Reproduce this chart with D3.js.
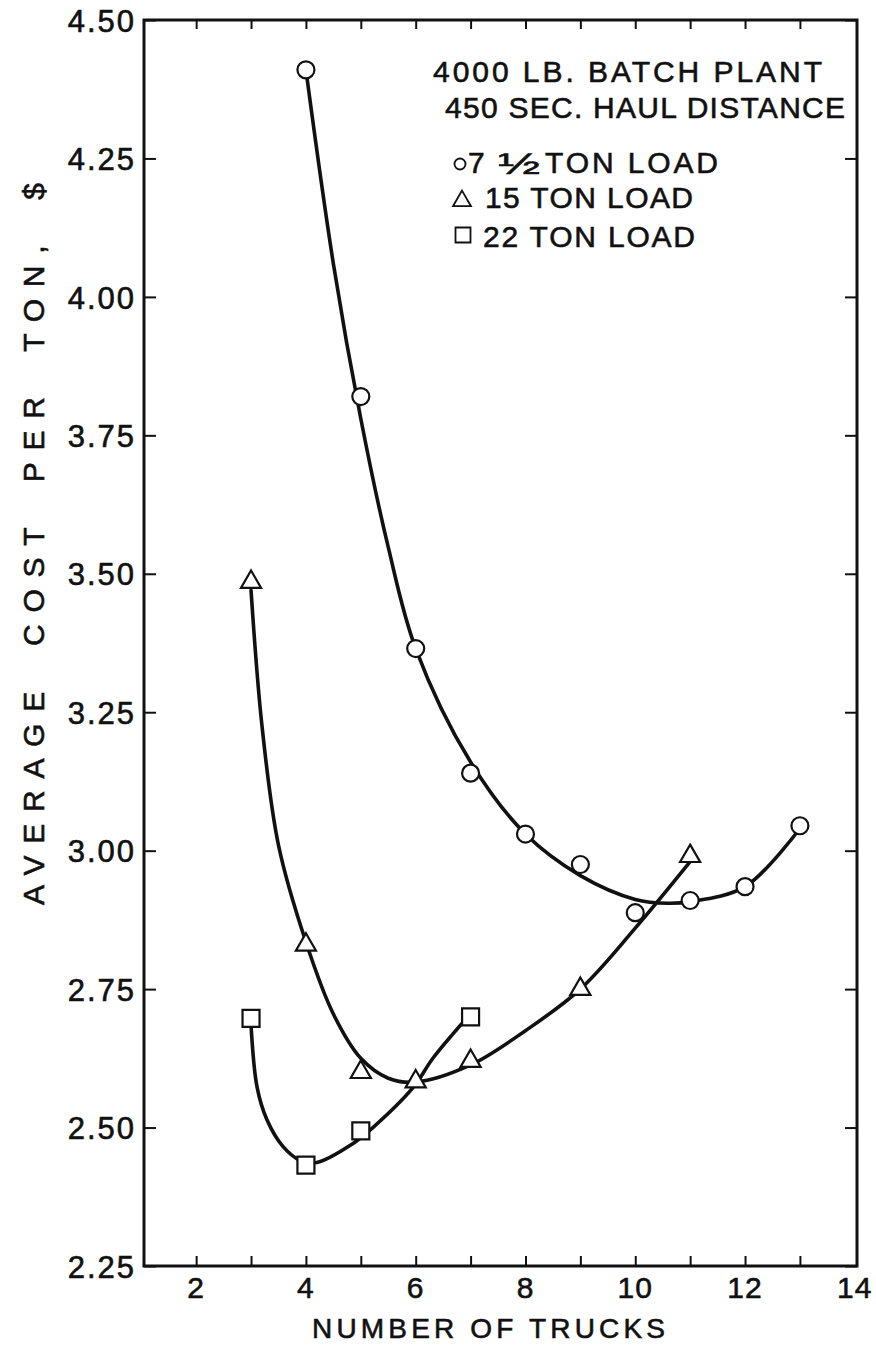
<!DOCTYPE html>
<html>
<head>
<meta charset="utf-8">
<script src="https://cdn.jsdelivr.net/npm/d3@7/dist/d3.min.js"></script>
<style>
  html, body { margin: 0; padding: 0; background: #fff; }
  svg { display: block; }
  text { font-family: "Liberation Sans", Arial, sans-serif; fill: #111; stroke: #111; stroke-width: 0.6px; }
</style>
</head>
<body>
<svg id="chart" width="876" height="1349"></svg>
<script>
// Observed costs (dollars per ton) by number of trucks
const trucks75 = [4, 5, 6, 7, 8, 9, 10, 11, 12, 13];
const cost75   = [4.41, 3.82, 3.365, 3.14, 3.03, 2.975, 2.888, 2.91, 2.935, 3.045];

const trucks15 = [3, 4, 5, 6, 7, 9, 11];
const cost15   = [3.485, 2.83, 2.60, 2.583, 2.62, 2.75, 2.99];

const trucks22 = [3, 4, 5, 7];
const cost22   = [2.697, 2.432, 2.494, 2.70];

// Hand-faired curves through each set of observations: [trucks, cost]
const fair75 = [[4, 4.41], [4.5, 4.06], [5, 3.78], [5.5, 3.548], [6, 3.365], [7, 3.16], [8, 3.03],
                [9, 2.955], [10, 2.912], [10.6, 2.905], [11, 2.908], [12, 2.935], [13, 3.04]];
const fair15 = [[3, 3.47], [3.2, 3.225], [3.5, 3.01], [4, 2.835], [4.5, 2.705], [5, 2.625],
                [5.5, 2.589], [6, 2.582], [7, 2.613], [8, 2.675], [9, 2.75], [10, 2.86], [11, 2.98]];
const fair22 = [[3, 2.685], [3.11, 2.573], [3.29, 2.514], [3.58, 2.466], [3.89, 2.441],
                [4.2, 2.437], [4.81, 2.468], [5.22, 2.50], [5.95, 2.572], [6.32, 2.626], [6.95, 2.70]];

// Axis ticks
const xTicks = [2, 4, 6, 8, 10, 12, 14];
const xMinorTicks = [2, 3, 4, 5, 6, 7, 8, 9, 10, 11, 12, 13];
const yTicks = [2.25, 2.50, 2.75, 3.00, 3.25, 3.50, 3.75, 4.00, 4.25, 4.50];

// Text
const xTitle = "NUMBER OF TRUCKS";
const yTitle = "AVERAGE COST PER TON, $";
const noteLines = ["4000 LB. BATCH PLANT", "450 SEC. HAUL DISTANCE"];
const legendLabels = ["TON  LOAD", "15  TON  LOAD", "22 TON  LOAD"];

const svg = d3.select("#chart");
const plotL = 144, plotR = 857, plotT = 20, plotB = 1266;

const x = d3.scaleLinear().domain([1.05, 14.04]).range([plotL, plotR]);
const y = d3.scaleLinear().domain([2.25, 4.5]).range([plotB, plotT]);

// Frame
svg.append("rect")
  .attr("x", plotL).attr("y", plotT)
  .attr("width", plotR - plotL).attr("height", plotB - plotT)
  .attr("fill", "none").attr("stroke", "#111").attr("stroke-width", 3);

// Bottom axis: inward ticks, labels below
const gx = svg.append("g").attr("transform", `translate(0,${plotB})`)
  .call(d3.axisBottom(x).tickValues(xMinorTicks).tickSizeInner(-10).tickSizeOuter(0).tickFormat(""));
gx.select(".domain").remove();
gx.selectAll("line").attr("stroke", "#111").attr("stroke-width", 2);

svg.append("g").selectAll("text").data(xTicks).join("text")
  .attr("x", d => x(d)).attr("y", plotB + 32)
  .attr("text-anchor", "middle")
  .attr("font-size", 30)
  .attr("letter-spacing", 1)
  .text(d => d);

// Top axis ticks
const gt = svg.append("g").attr("transform", `translate(0,${plotT})`)
  .call(d3.axisTop(x).tickValues(xMinorTicks).tickSizeInner(-9).tickSizeOuter(0).tickFormat(""));
gt.select(".domain").remove();
gt.selectAll("line").attr("stroke", "#111").attr("stroke-width", 2);

// Left axis
const gy = svg.append("g").attr("transform", `translate(${plotL},0)`)
  .call(d3.axisLeft(y).tickValues(yTicks).tickSizeInner(-12).tickSizeOuter(0).tickPadding(8)
    .tickFormat(d3.format(".2f")));
gy.select(".domain").remove();
gy.selectAll("line").attr("stroke", "#111").attr("stroke-width", 2);
gy.selectAll("text")
  .attr("font-size", 31)
  .attr("letter-spacing", 2)
  .attr("fill", "#111")
  .attr("dy", "0.36em")
  .style("font-family", "'Liberation Sans', Arial, sans-serif");

// Right axis ticks
const gr = svg.append("g").attr("transform", `translate(${plotR},0)`)
  .call(d3.axisRight(y).tickValues(yTicks).tickSizeInner(-12).tickSizeOuter(0).tickFormat(""));
gr.select(".domain").remove();
gr.selectAll("line").attr("stroke", "#111").attr("stroke-width", 2);

// Axis titles
svg.append("text")
  .attr("x", 312).attr("y", 1338)
  .attr("font-size", 28)
  .attr("textLength", 353).attr("lengthAdjust", "spacing")
  .text(xTitle);

svg.append("text")
  .attr("transform", "translate(44,905) rotate(-90)")
  .attr("font-size", 30)
  .attr("word-spacing", 14)
  .attr("textLength", 722).attr("lengthAdjust", "spacing")
  .text(yTitle);

// Faired curves
const line = d3.line()
  .x(d => x(d[0])).y(d => y(d[1]))
  .curve(d3.curveCatmullRom.alpha(0.5));

[fair75, fair15, fair22].forEach(pts => {
  svg.append("path")
    .attr("d", line(pts))
    .attr("fill", "none")
    .attr("stroke", "#111")
    .attr("stroke-width", 3.6)
    .attr("stroke-linecap", "round");
});

// Markers
const symCircle = d3.symbol().type(d3.symbolCircle).size(Math.PI * 8.5 * 8.5);
const symTri = d3.symbol().type(d3.symbolTriangle).size(175);
const symSquare = d3.symbol().type(d3.symbolSquare).size(17 * 17);

function marks(xs, ys, sym) {
  svg.append("g").selectAll("path").data(xs.map((v, i) => [v, ys[i]])).join("path")
    .attr("transform", d => `translate(${x(d[0])},${y(d[1])})`)
    .attr("d", sym)
    .attr("fill", "#fff")
    .attr("stroke", "#111")
    .attr("stroke-width", 2.2);
}
marks(trucks75, cost75, symCircle);
marks(trucks15, cost15, symTri);
marks(trucks22, cost22, symSquare);

// Conditions note
svg.append("text").attr("x", 433).attr("y", 82)
  .attr("font-size", 30).attr("textLength", 389).attr("lengthAdjust", "spacing")
  .text(noteLines[0]);
svg.append("text").attr("x", 445).attr("y", 118)
  .attr("font-size", 30).attr("textLength", 400).attr("lengthAdjust", "spacing")
  .text(noteLines[1]);

// Legend
const lg = svg.append("g");
lg.append("path").attr("transform", "translate(460,164)")
  .attr("d", d3.symbol().type(d3.symbolCircle).size(Math.PI * 5.5 * 5.5))
  .attr("fill", "#fff").attr("stroke", "#111").attr("stroke-width", 1.8);
lg.append("path").attr("transform", "translate(462,201)")
  .attr("d", d3.symbol().type(d3.symbolTriangle).size(140))
  .attr("fill", "#fff").attr("stroke", "#111").attr("stroke-width", 1.8);
lg.append("path").attr("transform", "translate(463,235)")
  .attr("d", d3.symbol().type(d3.symbolSquare).size(15 * 15))
  .attr("fill", "#fff").attr("stroke", "#111").attr("stroke-width", 1.8);

// "7 1/2" label: digit followed by the half glyph
lg.append("text").attr("x", 468).attr("y", 173).attr("font-size", 30).text("7");
lg.append("text").attr("x", 498).attr("y", 174).attr("font-size", 30)
  .attr("textLength", 42).attr("lengthAdjust", "spacingAndGlyphs").text("\u00BD");
lg.append("text").attr("x", 545).attr("y", 173).attr("font-size", 30)
  .attr("textLength", 173).attr("lengthAdjust", "spacing").text(legendLabels[0]);
lg.append("text").attr("x", 485).attr("y", 208).attr("font-size", 30)
  .attr("textLength", 208).attr("lengthAdjust", "spacing").text(legendLabels[1]);
lg.append("text").attr("x", 483).attr("y", 247).attr("font-size", 30)
  .attr("textLength", 212).attr("lengthAdjust", "spacing").text(legendLabels[2]);
</script>
</body>
</html>
